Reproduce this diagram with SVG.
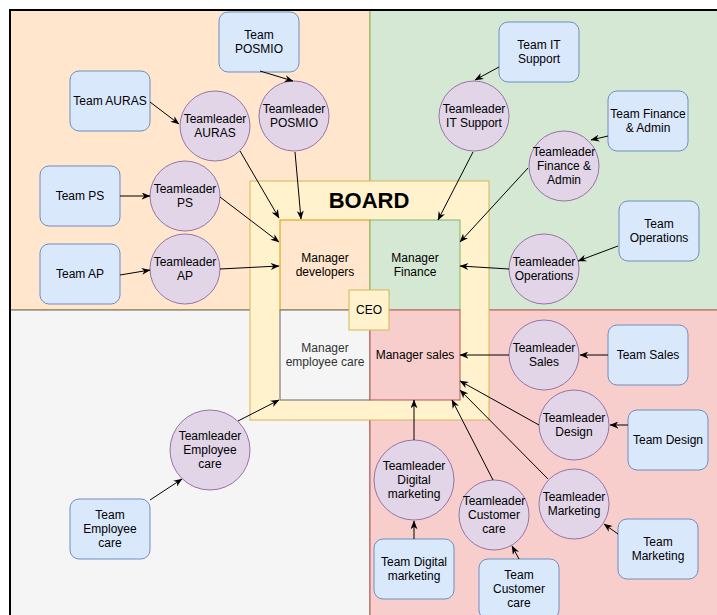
<svg xmlns="http://www.w3.org/2000/svg" width="717" height="615" viewBox="0 0 717 615">
<style>
text{font-family:"Liberation Sans",Arial,sans-serif;font-size:12px;fill:#000;text-anchor:middle}
.team{fill:#dae8fc;stroke:#6c8ebf;stroke-width:1}
.tl{fill:#e1d5e7;stroke:#9673a6;stroke-width:1}
.conn line{stroke:#000;stroke-width:1;marker-end:url(#arr)}
.board{fill:#fff2cc;stroke:#d6b656;stroke-width:1}
</style>
<defs>
<marker id="arr" viewBox="0 0 10 8" refX="9.5" refY="4" markerWidth="9" markerHeight="7" markerUnits="userSpaceOnUse" orient="auto">
<path d="M0,0 L10,4 L0,8 L3,4 z" fill="#000"/>
</marker>
</defs>
<rect x="0" y="0" width="717" height="615" fill="#fff"/>
<g id="quadrants">
<rect x="10" y="10" width="360" height="300" fill="#ffe6cc" stroke="#d79b00"/>
<rect x="370" y="10" width="360" height="300" fill="#d5e8d4" stroke="#82b366"/>
<rect x="10" y="310" width="360" height="320" fill="#f5f5f5" stroke="#666666"/>
<rect x="370" y="310" width="360" height="320" fill="#f8cecc" stroke="#b85450"/>
<rect x="10" y="10" width="720" height="620" fill="none" stroke="#000" stroke-width="2"/>
</g>
<g id="board">
<rect class="board" x="250" y="181" width="239" height="239"/>
<text x="369" y="208" style="font-size:22px;font-weight:bold">BOARD</text>
</g>
<g id="manager-developers">
<rect x="280" y="220" width="90" height="90" fill="#ffe6cc" stroke="#d79b00"/>
<text x="325" y="262">Manager</text><text x="325" y="276">developers</text>
</g>
<g id="manager-finance">
<rect x="370" y="220" width="90" height="90" fill="#d5e8d4" stroke="#82b366"/>
<text x="415" y="262">Manager</text><text x="415" y="276">Finance</text>
</g>
<g id="manager-employee-care">
<rect x="280" y="310" width="90" height="90" fill="#f5f5f5" stroke="#666666"/>
<text x="325" y="352" style="fill:#333">Manager</text><text x="325" y="366" style="fill:#333">employee care</text>
</g>
<g id="manager-sales">
<rect x="370" y="310" width="90" height="90" fill="#f8cecc" stroke="#b85450"/>
<text x="415" y="359">Manager sales</text>
</g>
<g id="ceo">
<rect class="board" x="349" y="290" width="40" height="40"/>
<text x="369" y="314">CEO</text>
</g>
<g id="team-posmio"><rect class="team" x="219" y="12" width="80" height="60" rx="9"/><text x="259" y="39">Team</text><text x="259" y="53">POSMIO</text></g>
<g id="team-auras"><rect class="team" x="70" y="71" width="80" height="60" rx="9"/><text x="110" y="105">Team AURAS</text></g>
<g id="team-ps"><rect class="team" x="40" y="166" width="80" height="60" rx="9"/><text x="80" y="200">Team PS</text></g>
<g id="team-ap"><rect class="team" x="40" y="244" width="80" height="60" rx="9"/><text x="80" y="278">Team AP</text></g>
<g id="team-it-support"><rect class="team" x="499" y="22" width="80" height="60" rx="9"/><text x="539" y="49">Team IT</text><text x="539" y="63">Support</text></g>
<g id="team-finance-admin"><rect class="team" x="608" y="91" width="80" height="60" rx="9"/><text x="648" y="118">Team Finance</text><text x="648" y="132">&amp; Admin</text></g>
<g id="team-operations"><rect class="team" x="619" y="201" width="80" height="60" rx="9"/><text x="659" y="228">Team</text><text x="659" y="242">Operations</text></g>
<g id="team-employee-care"><rect class="team" x="70" y="499" width="80" height="60" rx="9"/><text x="110" y="519">Team</text><text x="110" y="533">Employee</text><text x="110" y="547">care</text></g>
<g id="team-sales"><rect class="team" x="608" y="325" width="80" height="60" rx="9"/><text x="648" y="359">Team Sales</text></g>
<g id="team-design"><rect class="team" x="628" y="410" width="80" height="60" rx="9"/><text x="668" y="444">Team Design</text></g>
<g id="team-digital-marketing"><rect class="team" x="374" y="539" width="80" height="60" rx="9"/><text x="414" y="566">Team Digital</text><text x="414" y="580">marketing</text></g>
<g id="team-customer-care"><rect class="team" x="479" y="559" width="80" height="60" rx="9"/><text x="519" y="579">Team</text><text x="519" y="593">Customer</text><text x="519" y="607">care</text></g>
<g id="team-marketing"><rect class="team" x="618" y="519" width="80" height="60" rx="9"/><text x="658" y="546">Team</text><text x="658" y="560">Marketing</text></g>
<g id="tl-auras"><circle class="tl" cx="215" cy="126" r="35"/><text x="215" y="123">Teamleader</text><text x="215" y="137">AURAS</text></g>
<g id="tl-posmio"><circle class="tl" cx="294" cy="116" r="35"/><text x="294" y="113">Teamleader</text><text x="294" y="127">POSMIO</text></g>
<g id="tl-ps"><circle class="tl" cx="185" cy="196" r="35"/><text x="185" y="193">Teamleader</text><text x="185" y="207">PS</text></g>
<g id="tl-ap"><circle class="tl" cx="185" cy="269" r="35"/><text x="185" y="266">Teamleader</text><text x="185" y="280">AP</text></g>
<g id="tl-it-support"><circle class="tl" cx="474" cy="116" r="35"/><text x="474" y="113">Teamleader</text><text x="474" y="127">IT Support</text></g>
<g id="tl-finance-admin"><circle class="tl" cx="564" cy="166" r="35"/><text x="564" y="156">Teamleader</text><text x="564" y="170">Finance &amp;</text><text x="564" y="184">Admin</text></g>
<g id="tl-operations"><circle class="tl" cx="544" cy="269" r="35"/><text x="544" y="266">Teamleader</text><text x="544" y="280">Operations</text></g>
<g id="tl-employee-care"><circle class="tl" cx="210" cy="450" r="40"/><text x="210" y="440">Teamleader</text><text x="210" y="454">Employee</text><text x="210" y="468">care</text></g>
<g id="tl-sales"><circle class="tl" cx="544" cy="355" r="35"/><text x="544" y="352">Teamleader</text><text x="544" y="366">Sales</text></g>
<g id="tl-design"><circle class="tl" cx="574" cy="425" r="35"/><text x="574" y="422">Teamleader</text><text x="574" y="436">Design</text></g>
<g id="tl-digital-marketing"><circle class="tl" cx="414" cy="480" r="40"/><text x="414" y="470">Teamleader</text><text x="414" y="484">Digital</text><text x="414" y="498">marketing</text></g>
<g id="tl-customer-care"><circle class="tl" cx="494" cy="515" r="35"/><text x="494" y="505">Teamleader</text><text x="494" y="519">Customer</text><text x="494" y="533">care</text></g>
<g id="tl-marketing"><circle class="tl" cx="574" cy="504" r="35"/><text x="574" y="501">Teamleader</text><text x="574" y="515">Marketing</text></g>
<g id="connectors" class="conn">
<line x1="260" y1="71" x2="293" y2="81"/>
<line x1="150" y1="102" x2="179" y2="124"/>
<line x1="120" y1="196" x2="150" y2="196"/>
<line x1="120" y1="275" x2="150" y2="270"/>
<line x1="240" y1="151" x2="279" y2="218"/>
<line x1="295" y1="152" x2="301" y2="219"/>
<line x1="220" y1="197" x2="279" y2="242"/>
<line x1="220" y1="269" x2="279" y2="266"/>
<line x1="499" y1="67" x2="475" y2="80"/>
<line x1="473" y1="152" x2="438" y2="220"/>
<line x1="608" y1="136" x2="591" y2="140"/>
<line x1="528" y1="168" x2="460" y2="242"/>
<line x1="618" y1="246" x2="578" y2="261"/>
<line x1="509" y1="269" x2="460" y2="266"/>
<line x1="150" y1="500" x2="182" y2="479"/>
<line x1="238" y1="421" x2="279" y2="400"/>
<line x1="608" y1="355" x2="580" y2="355"/>
<line x1="509" y1="355" x2="460" y2="355"/>
<line x1="628" y1="425" x2="610" y2="425"/>
<line x1="539" y1="425" x2="460" y2="381"/>
<line x1="548" y1="479" x2="460" y2="390"/>
<line x1="493" y1="480" x2="452" y2="400"/>
<line x1="414" y1="440" x2="414" y2="400"/>
<line x1="414" y1="539" x2="414" y2="521"/>
<line x1="519" y1="559" x2="512" y2="546"/>
<line x1="618" y1="534" x2="604" y2="524"/>
</g>
</svg>
